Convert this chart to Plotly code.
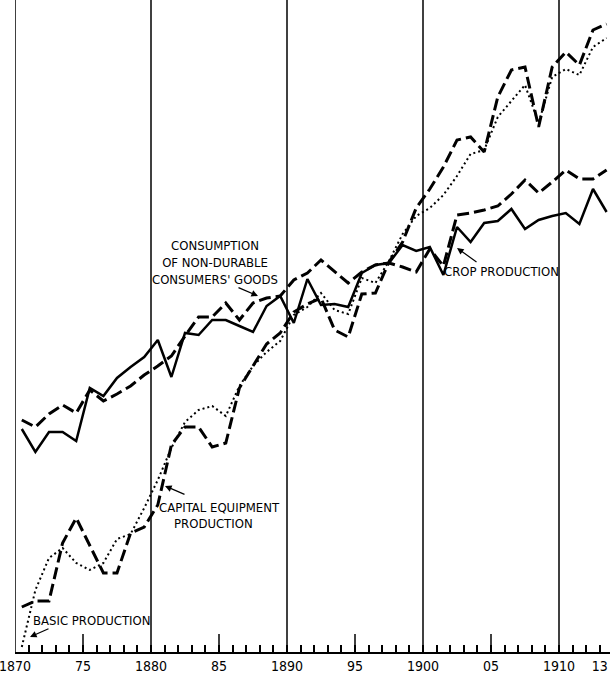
import plotly.graph_objects as go

# ---- data (relative level; arbitrary vertical units) ----
years = list(range(1870, 1914))

crop_production = [223, 200, 220, 220, 211, 264, 256, 274, 285, 295,
                   312, 275, 319, 317, 332, 332, 326, 320, 346, 356,
                   329, 373, 347, 348, 345, 379, 387, 389, 407, 401,
                   405, 377, 425, 410, 429, 431, 443, 423, 432, 436,
                   439, 428, 463, 440]

consumption_nondurable = [232, 225, 238, 247, 239, 262, 251, 258, 266, 277,
                          286, 296, 316, 335, 335, 349, 332, 349, 354, 356,
                          372, 379, 392, 380, 369, 380, 387, 389, 385, 380,
                          403, 386, 437, 439, 442, 446, 458, 472, 459, 470,
                          482, 473, 473, 482]

capital_equipment = [45, 51, 51, 109, 134, 107, 79, 79, 119, 125,
                     147, 207, 225, 225, 205, 209, 264, 286, 308, 319,
                     340, 348, 354, 322, 315, 358, 359, 390, 410, 444,
                     463, 485, 512, 515, 500, 555, 582, 585, 525, 585,
                     600, 587, 622, 628]

basic_production = [5, 62, 94, 104, 89, 82, 89, 113, 118, 144,
                    172, 204, 230, 242, 246, 236, 266, 286, 300, 311,
                    337, 345, 359, 342, 338, 374, 369, 391, 418, 436,
                    444, 457, 476, 498, 502, 535, 551, 567, 529, 575,
                    583, 577, 605, 614]

tick_vals = [1870, 1875, 1880, 1885, 1890, 1895, 1900, 1905, 1910, 1913]
tick_text = ["1870", "75", "1880", "85", "1890", "95", "1900", "05", "1910", "13"]
decades = [1870, 1880, 1890, 1900, 1910]
half_decades = [1875, 1885, 1895, 1905]

# ---- figure geometry ----
W, H = 610, 673
ML, MR, MT, MB = 15, 0, 0, 21
PX_PER_YEAR = 13.6
X0 = 1870
X1 = X0 + (W - ML - MR) / PX_PER_YEAR
Y_TOP = H - MT - MB  # one vertical unit = one pixel


def px2x(px):
    return X0 + (px - ML) / PX_PER_YEAR


def py2y(py):
    return (H - MB) - py


xpos = [y + 0.5 for y in years]  # annual values plotted at mid-year

FONT = "DejaVu Sans Condensed, Liberation Sans Narrow, Arial Narrow, sans-serif"

fig = go.Figure()
fig.add_trace(go.Scatter(x=xpos, y=basic_production, mode="lines",
                         line=dict(color="black", width=2, dash="2px,3px"),
                         name="Basic production"))
fig.add_trace(go.Scatter(x=xpos, y=capital_equipment, mode="lines",
                         line=dict(color="black", width=3, dash="12px,5px"),
                         name="Capital equipment production"))
fig.add_trace(go.Scatter(x=xpos, y=consumption_nondurable, mode="lines",
                         line=dict(color="black", width=3, dash="12px,5px"),
                         name="Consumption of non-durable consumers' goods"))
fig.add_trace(go.Scatter(x=xpos, y=crop_production, mode="lines",
                         line=dict(color="black", width=2.5),
                         name="Crop production"))

# decade rules
for d in decades:
    fig.add_shape(type="line", xref="x", yref="paper", x0=d, x1=d, y0=0, y1=1,
                  line=dict(color="black", width=1.5), layer="below")
# longer five-year ticks
for d in half_decades:
    fig.add_shape(type="line", xref="x", yref="y", x0=d, x1=d, y0=0, y1=18,
                  line=dict(color="black", width=1.5))


def label(text, px, py):
    fig.add_annotation(x=px2x(px), y=py2y(py), xref="x", yref="y", text=text,
                       showarrow=False, xanchor="center", yanchor="middle",
                       align="center", font=dict(family=FONT, size=13, color="black"))


def arrow(tail, head):
    fig.add_annotation(x=px2x(head[0]), y=py2y(head[1]), xref="x", yref="y",
                       ax=px2x(tail[0]), ay=py2y(tail[1]), axref="x", ayref="y",
                       text="", showarrow=True, arrowhead=2, arrowsize=1.1,
                       arrowwidth=1.2, arrowcolor="black")


label("CONSUMPTION<br>OF NON-DURABLE<br>CONSUMERS' GOODS", 215, 262)
arrow((237, 287), (258, 296))
label("CROP PRODUCTION", 501, 271)
arrow((478, 263), (457, 248))
label("CAPITAL EQUIPMENT", 219, 507)
label("PRODUCTION", 213, 523)
arrow((186, 495), (165, 486))
label("BASIC PRODUCTION", 91, 620)
arrow((50, 628), (30, 637))

fig.update_layout(
    width=W, height=H,
    margin=dict(l=ML, r=MR, t=MT, b=MB, pad=0),
    paper_bgcolor="white", plot_bgcolor="white",
    showlegend=False,
    xaxis=dict(range=[X0, X1], tickmode="array", tickvals=tick_vals, ticktext=tick_text,
               ticks="inside", ticklen=7, tickwidth=1.5, tickcolor="black",
               minor=dict(tickmode="linear", tick0=1870, dtick=1, ticks="inside",
                          ticklen=7, tickwidth=1.5, tickcolor="black", showgrid=False),
               showline=True, linecolor="black", linewidth=1.5,
               showgrid=False, zeroline=False, ticklabeloverflow="allow",
               tickfont=dict(family=FONT, size=14, color="black")),
    yaxis=dict(range=[0, Y_TOP], visible=False, showgrid=False, zeroline=False),
)

fig.write_html("out.html",
               config={"displayModeBar": False},
               post_script="document.body.style.margin='0';document.body.style.overflow='hidden';")
